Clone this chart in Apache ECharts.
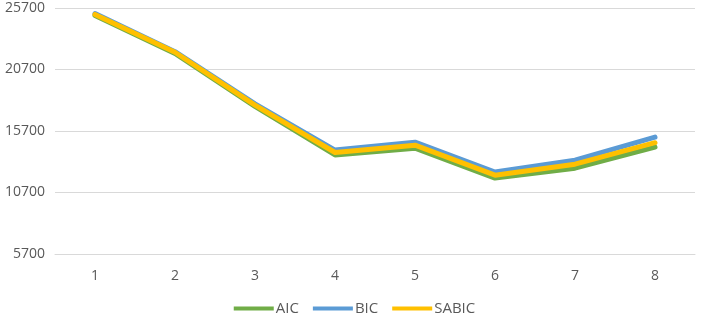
<!DOCTYPE html>
<html>
<head>
<meta charset="utf-8">
<script src="https://cdn.jsdelivr.net/npm/echarts@6/dist/echarts.min.js"></script>
<style>html,body{margin:0;padding:0;background:#fff}#c{width:709px;height:322px}</style>
</head>
<body>
<div id="c"></div>
<script>
const categories = ['1','2','3','4','5','6','7','8'];
const aic   = [25100, 22000, 17700, 13750, 14300, 11870, 12680, 14390];
const bic   = [25250, 22150, 17900, 14150, 14790, 12360, 13330, 15200];
const sabic = [25180, 22100, 17800, 13950, 14550, 12110, 13000, 14750];
const yTicks = [5700, 10700, 15700, 20700, 25700];

const chart = echarts.init(document.getElementById('c'), null, {renderer:'canvas'});
const font = '"Open Sans", "Liberation Sans", sans-serif';
function s(name, data, color){
  return {name, type:'line', data, symbol:'none', smooth:false,
    lineStyle:{color, width:5, cap:'round', join:'round'}, itemStyle:{color}};
}
chart.setOption({
  animation:false,
  grid:{left:55, right:14, top:8, bottom:68},
  xAxis:{type:'category', data:categories, boundaryGap:true,
    axisLine:{show:true, lineStyle:{color:'#d9d9d9', width:1}}, axisTick:{show:false},
    axisLabel:{color:'#595959', fontSize:14, fontFamily:font, margin:15}},
  yAxis:{type:'value', min:yTicks[0], max:yTicks[yTicks.length-1], interval:5000,
    axisLine:{show:false}, axisTick:{show:false},
    splitLine:{lineStyle:{color:'#d9d9d9', width:1}},
    axisLabel:{color:'#595959', fontSize:14, fontFamily:font, margin:10,
      formatter: v => String(v)}},
  legend:{bottom:1, left:'center', icon:'rect', itemWidth:40, itemHeight:4, itemGap:14,
    textStyle:{color:'#595959', fontSize:15, fontFamily:font, padding:[0,0,0,-3]},
    data:['AIC','BIC','SABIC']},
  series:[s('AIC', aic, '#70AD47'), s('BIC', bic, '#5B9BD5'), s('SABIC', sabic, '#FFC000')]
});
</script>
</body>
</html>
